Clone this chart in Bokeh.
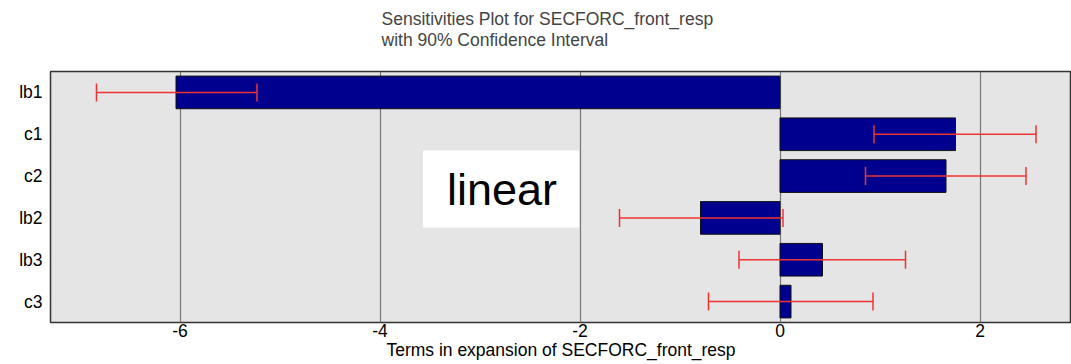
from bokeh.plotting import figure
from bokeh.models import (ColumnDataSource, FactorRange, Range1d, Whisker, TeeHead,
                          BoxAnnotation, Label, FixedTicker, PrintfTickFormatter, Title)
from bokeh.embed import file_html
from bokeh.resources import INLINE

terms = ["lb1", "c1", "c2", "lb2", "lb3", "c3"]
values = [-6.04, 1.755, 1.66, -0.795, 0.425, 0.11]
ci_lower = [-6.835, 0.94, 0.855, -1.605, -0.41, -0.715]
ci_upper = [-5.23, 2.56, 2.46, 0.03, 1.255, 0.93]
x_ticks = [-6, -4, -2, 0, 2]

title_text = "Sensitivities Plot for SECFORC_front_resp\nwith 90% Confidence Interval"
xlabel = "Terms in expansion of SECFORC_front_resp"
FONT = "Liberation Sans"

src = ColumnDataSource(dict(terms=terms, values=values, lower=ci_lower, upper=ci_upper))

p = figure(width=1071, height=364, output_backend="svg", toolbar_location=None,
           y_range=FactorRange(factors=list(reversed(terms))),
           x_range=Range1d(-7.295, 2.915),
           min_border_left=50, min_border_top=71, min_border_bottom=42, min_border_right=0)

p.background_fill_color = "#e5e5e5"
p.border_fill_color = "white"
p.outline_line_color = "#333333"
p.outline_line_width = 1.5

# spacer between title and frame
spacer = Title(text=" ", text_font=FONT, text_font_size="12px", standoff=4)
p.add_layout(spacer, "above")
main_title = Title(text=title_text, text_font=FONT, text_font_size="17.5px",
                   text_font_style="normal", align="left", vertical_align="top",
                   offset=331, standoff=0, text_line_height=1.05)
p.add_layout(main_title, "above")

p.hbar(y="terms", left=0, right="values", height=0.78, source=src,
       fill_color="#00008f", line_color="#111111", line_width=1)

w = Whisker(source=src, base="terms", lower="lower", upper="upper", dimension="width",
            line_color="#ee3333", line_width=1.5, level="overlay")
w.lower_head = TeeHead(size=18, line_color="#ee3333", line_width=1.5)
w.upper_head = TeeHead(size=18, line_color="#ee3333", line_width=1.5)
p.add_layout(w)

p.add_layout(BoxAnnotation(left=-3.57, right=-2.01, bottom=2.27, top=4.11,
                           fill_color="white", fill_alpha=1.0, line_color=None))
p.add_layout(Label(x=-2.78, y=3.185, text="linear", text_align="center",
                   text_baseline="alphabetic", text_font=FONT, text_font_size="45px",
                   text_color="black"))

p.xaxis.ticker = FixedTicker(ticks=x_ticks)
p.xaxis.formatter = PrintfTickFormatter(format="%d")
p.xaxis.axis_label = xlabel
for ax in (p.xaxis[0], p.yaxis[0]):
    ax.axis_line_color = None
    ax.major_tick_line_color = None
    ax.minor_tick_line_color = None
    ax.major_tick_out = 0
    ax.major_tick_in = 0
    ax.minor_tick_out = 0
    ax.minor_tick_in = 0
    ax.major_label_text_font = FONT
    ax.major_label_text_font_size = "17.5px"
    ax.major_label_text_color = "black"
    ax.axis_label_text_font = FONT
    ax.axis_label_text_font_size = "17.5px"
    ax.axis_label_text_font_style = "normal"
    ax.axis_label_text_color = "black"
p.xaxis.major_label_standoff = 1
p.xaxis.axis_label_standoff = 0
p.yaxis.major_label_standoff = 8

p.xgrid.grid_line_color = "#777777"
p.xgrid.grid_line_width = 1.2
p.ygrid.grid_line_color = None

open("out.html", "w").write(file_html(p, INLINE))
